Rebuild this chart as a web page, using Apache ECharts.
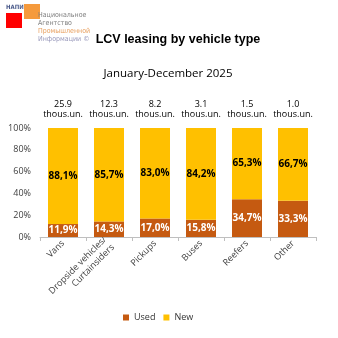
<!DOCTYPE html>
<html><head><meta charset="utf-8">
<script src="https://cdn.jsdelivr.net/npm/echarts@6/dist/echarts.min.js"></script>
<style>html,body{margin:0;padding:0;background:#fff}#c{width:338px;height:338px}</style>
</head><body><div id="c"></div>
<script>
const categories = ['Vans', 'Dropside vehicles/\nCurtainsiders', 'Pickups', 'Buses', 'Reefers', 'Other'];
const totals = ['25.9', '12.3', '8.2', '3.1', '1.5', '1.0'];
const usedShare = [11.9, 14.3, 17.0, 15.8, 34.7, 33.3];
const newShare = [88.1, 85.7, 83.0, 84.2, 65.3, 66.7];
const yTicks = [0, 20, 40, 60, 80, 100];

const fmt = v => v.toFixed(1).replace('.', ',') + '%';
const chart = echarts.init(document.getElementById('c'), null, {renderer: 'canvas'});
const logoFont = '7px "Liberation Sans Narrow", "DejaVu Sans Condensed", sans-serif';
chart.setOption({
  animation: false,
  textStyle: {fontFamily: 'Open Sans'},
  legend: {bottom: 11, left: 118, itemWidth: 6, itemHeight: 6, itemGap: 8,
    textStyle: {fontSize: 9, color: '#333'}, data: ['Used', 'New'], icon: 'rect'},
  grid: {left: 40, right: 22, top: 128, bottom: 101},
  xAxis: [
    {type: 'category', data: categories, position: 'bottom',
     axisLine: {lineStyle: {color: '#BFBFBF'}},
     axisTick: {show: true, alignWithLabel: false, length: 4, lineStyle: {color: '#BFBFBF'}},
     axisLabel: {rotate: 45, fontSize: 9, color: '#404040', interval: 0, margin: 5, lineHeight: 11, align: 'right'}},
    {type: 'category', data: totals.map(t => t + '\nthous.un.'), position: 'top',
     axisLine: {show: false}, axisTick: {show: false},
     axisLabel: {fontSize: 9, color: '#000', interval: 0, margin: 9, lineHeight: 10}}
  ],
  yAxis: {type: 'value', min: yTicks[0], max: yTicks[yTicks.length - 1], interval: 20,
    splitLine: {show: false}, axisLine: {show: false}, axisTick: {show: false},
    axisLabel: {formatter: '{value}%', fontSize: 9, color: '#404040', margin: 9}},
  series: [
    {name: 'Used', type: 'bar', stack: 's', data: usedShare, barWidth: 30,
     itemStyle: {color: '#C55A11'},
     label: {show: true, position: 'inside', formatter: p => fmt(p.value), color: '#fff', fontSize: 10, fontWeight: 'bold'}},
    {name: 'New', type: 'bar', stack: 's', data: newShare, barWidth: 30,
     itemStyle: {color: '#FFC000'},
     label: {show: true, position: 'inside', formatter: p => fmt(p.value), color: '#000', fontSize: 10, fontWeight: 'bold'}}
  ],
  graphic: [
    {type: 'text', x: 178, y: 40, style: {text: 'LCV leasing by vehicle type', textAlign: 'center', textVerticalAlign: 'middle',
      font: 'bold 12.5px "Liberation Sans"', fill: '#000'}},
    {type: 'text', x: 168, y: 74, style: {text: 'January-December 2025', textAlign: 'center', textVerticalAlign: 'middle',
      font: '11.5px "Open Sans"', fill: '#000'}},
    {type: 'rect', shape: {x: 6, y: 13, width: 16, height: 15}, style: {fill: '#FF0000'}},
    {type: 'rect', shape: {x: 24, y: 4, width: 16, height: 15}, style: {fill: '#F59A3C'}},
    {type: 'text', x: 6, y: 4, style: {text: 'НАПИ', font: 'bold 6px "DejaVu Sans Condensed", sans-serif', fill: '#4A5A8A'}},
    {type: 'text', x: 38, y: 12, style: {text: 'Национальное', font: logoFont, fill: '#7F7F7F'}},
    {type: 'text', x: 38, y: 20, style: {text: 'Агентство', font: logoFont, fill: '#7F7F7F'}},
    {type: 'text', x: 38, y: 28, style: {text: 'Промышленной', font: logoFont, fill: '#E8A060'}},
    {type: 'text', x: 38, y: 36, style: {text: 'Информации ©', font: logoFont, fill: '#9999BB'}}
  ]
});
</script></body></html>
